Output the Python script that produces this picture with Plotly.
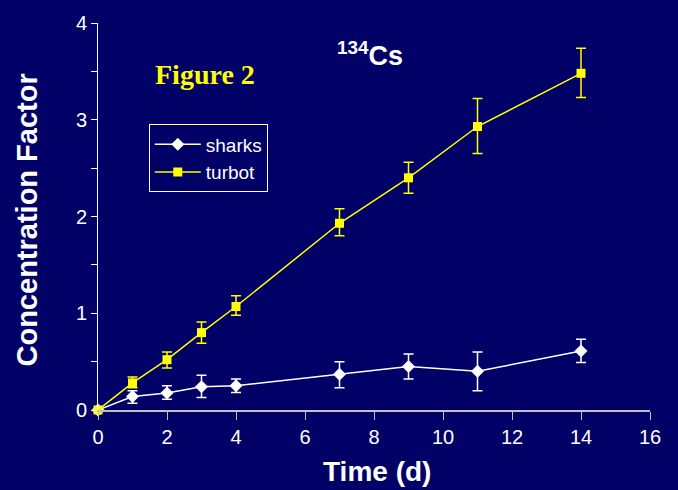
import plotly.graph_objects as go

days = [0, 1, 2, 3, 4, 7, 9, 11, 14]
sharks = [0, 0.14, 0.175, 0.24, 0.25, 0.37, 0.45, 0.40, 0.61]
sharks_err_up = [0, 0.06, 0.075, 0.12, 0.07, 0.13, 0.13, 0.20, 0.12]
sharks_err_dn = [0, 0.07, 0.065, 0.11, 0.07, 0.14, 0.13, 0.20, 0.12]
turbot = [0, 0.28, 0.52, 0.80, 1.07, 1.93, 2.40, 2.93, 3.48]
turbot_err_up = [0, 0.06, 0.08, 0.11, 0.11, 0.15, 0.16, 0.29, 0.26]
turbot_err_dn = [0, 0.05, 0.085, 0.11, 0.09, 0.13, 0.16, 0.28, 0.25]
x_ticks = [0, 2, 4, 6, 8, 10, 12, 14, 16]
y_ticks = [0, 1, 2, 3, 4]

BG = "#000066"
YEL = "#FFFF00"

fig = go.Figure()
fig.add_trace(go.Scatter(
    x=days, y=sharks, name="sharks", mode="lines+markers",
    line=dict(color="white", width=1.5),
    marker=dict(symbol="diamond", size=10, color="white"),
    error_y=dict(type="data", array=sharks_err_up, arrayminus=sharks_err_dn,
                 color="white", thickness=1.5, width=5),
    cliponaxis=False,
))
fig.add_trace(go.Scatter(
    x=days, y=turbot, name="turbot", mode="lines+markers",
    line=dict(color=YEL, width=1.5),
    marker=dict(symbol="square", size=9, color=YEL),
    error_y=dict(type="data", array=turbot_err_up, arrayminus=turbot_err_dn,
                 color=YEL, thickness=1.5, width=5),
    cliponaxis=False,
))

fig.update_layout(
    width=678, height=490,
    paper_bgcolor=BG, plot_bgcolor=BG,
    margin=dict(l=98, r=28, t=21, b=80),
    font=dict(family="Liberation Sans, Arial", color="white", size=20),
    showlegend=True,
    legend=dict(
        x=0.092, y=0.738, xanchor="left", yanchor="top",
        bgcolor=BG, bordercolor="white", borderwidth=1,
        font=dict(size=19, color="white"),
        tracegroupgap=0, itemwidth=46,
    ),
    xaxis=dict(
        range=[0, 16], tickvals=x_ticks,
        showgrid=False, zeroline=False,
        showline=True, linecolor="#c0c0c0", linewidth=2,
        ticks="outside", ticklen=8, tickcolor="#c0c0c0", tickwidth=1,
        tickfont=dict(size=20, color="white"),
    ),
    yaxis=dict(
        range=[0, 4], tickvals=y_ticks,
        showgrid=False, zeroline=False,
        showline=True, linecolor="white", linewidth=1,
        ticks="outside", ticklen=6, tickcolor="white", tickwidth=1,
        minor=dict(tickvals=[0.5, 1.5, 2.5, 3.5], ticks="outside", ticklen=6, tickcolor="white"),
        tickfont=dict(size=20, color="white"),
    ),
    annotations=[
        dict(text="<b>Figure 2</b>", xref="paper", yref="paper", x=0.0996, y=0.866,
             xanchor="left", yanchor="middle", showarrow=False,
             font=dict(family="Liberation Serif, Times New Roman", size=28, color=YEL)),
        dict(text="<b><sup>134</sup>Cs</b>", xref="paper", yref="paper", x=0.493, y=0.92,
             xanchor="center", yanchor="middle", showarrow=False,
             font=dict(size=27, color="white")),
        dict(text="<b>Time (d)</b>", xref="paper", yref="paper", x=0.506, y=-0.16,
             xanchor="center", yanchor="middle", showarrow=False,
             font=dict(size=28, color="white")),
        dict(text="<b>Concentration Factor</b>", xref="paper", yref="paper", x=-0.1295, y=0.491,
             xanchor="center", yanchor="middle", showarrow=False, textangle=-90,
             font=dict(size=29, color="white")),
    ],
)

fig.write_html(
    "out.html",
    config={"displayModeBar": False},
    post_script="document.body.style.margin='0';document.body.style.background='#000066';",
)
